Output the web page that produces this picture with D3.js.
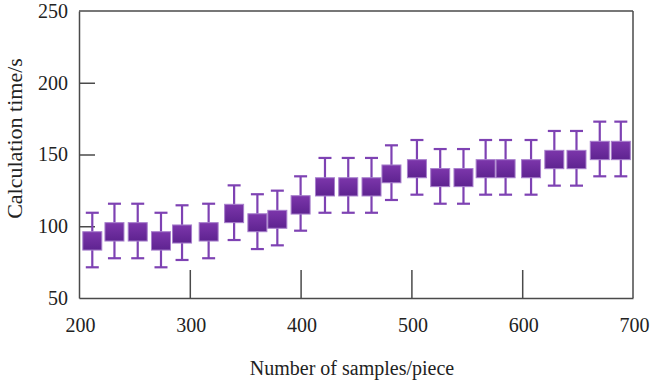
<!DOCTYPE html>
<html>
<head>
<meta charset="utf-8">
<script src="https://cdn.jsdelivr.net/npm/d3@7"></script>
<style>
  html, body { margin: 0; padding: 0; background: #fff; }
  svg { display: block; }
  svg text { font-family: "Liberation Serif", "Times New Roman", serif !important; fill: #222; }
</style>
</head>
<body>
<svg id="chart" width="650" height="386"></svg>
<script>
// ---- data ----
const samples = [212, 232, 253, 274, 293, 317, 340, 361, 379, 400, 422, 443, 464, 482, 505, 526, 547, 567, 585, 608, 629, 649, 670, 689];
const lowerQuartile = [83.4, 89.7, 89.7, 83.4, 88.3, 89.7, 102.5, 96.2, 98.6, 108.5, 121.1, 121.1, 121.1, 130.3, 133.8, 127.6, 127.6, 133.8, 133.8, 133.8, 140.1, 140.1, 146.4, 146.4];
const upperQuartile = [96.2, 102.5, 102.5, 96.2, 100.9, 102.5, 115.3, 108.7, 111.1, 121.3, 133.8, 133.8, 133.8, 142.7, 146.4, 140.2, 140.2, 146.4, 146.4, 146.4, 152.9, 152.9, 159.2, 159.2];
const whiskerLow = [71.4, 77.7, 77.7, 71.4, 76.5, 77.7, 90.4, 84.1, 86.7, 96.9, 109.4, 109.4, 109.4, 118.3, 122.0, 115.7, 115.7, 122.0, 122.0, 122.0, 128.3, 128.3, 134.8, 134.8];
const whiskerHigh = [109.4, 115.7, 115.7, 109.4, 114.6, 115.7, 128.5, 122.3, 124.8, 134.8, 147.6, 147.6, 147.6, 156.4, 160.1, 153.8, 153.8, 160.1, 160.1, 160.1, 166.4, 166.4, 172.9, 172.9];
const xTicks = [200, 300, 400, 500, 600, 700];
const yTicks = [50, 100, 150, 200, 250];
const xTitle = "Number of samples/piece";
const yTitle = "Calculation time/s";

const rows = samples.map((s, i) => ({
  x: s, q1: lowerQuartile[i], q3: upperQuartile[i], lo: whiskerLow[i], hi: whiskerHigh[i]
}));

// ---- layout ----
const L = 79, R = 633, T = 11, B = 298;
const FONT = "Liberation Serif";
const svg = d3.select("#chart");
const x = d3.scaleLinear().domain([200, 700]).range([L, R]);
const y = d3.scaleLinear().domain([50, 250]).range([B, T]);

const axisColor = "#4a4a4a";
const whiskerColor = "#7e42b3";
const boxW = 19, capW = 13;

// gradient for boxes
const defs = svg.append("defs");
const grad = defs.append("linearGradient").attr("id", "boxGrad")
  .attr("x1", 0).attr("y1", 0).attr("x2", 0).attr("y2", 1);
grad.append("stop").attr("offset", "0%").attr("stop-color", "#7c36ab");
grad.append("stop").attr("offset", "100%").attr("stop-color", "#5e2390");

// frame: top and right borders
svg.append("line").attr("x1", L).attr("x2", R).attr("y1", T).attr("y2", T)
  .attr("stroke", axisColor).attr("stroke-width", 1.5);
svg.append("line").attr("x1", R).attr("x2", R).attr("y1", T).attr("y2", B)
  .attr("stroke", axisColor).attr("stroke-width", 1.5);

// y axis (ticks inward)
const yAxis = d3.axisLeft(y).tickValues(yTicks).tickSize(0).tickPadding(11);
const gy = svg.append("g").attr("transform", `translate(${L},0)`).call(yAxis)
  .attr("font-family", FONT).attr("font-size", 20);
gy.select(".domain").attr("stroke", axisColor).attr("stroke-width", 1.5);
gy.selectAll("text").attr("fill", "#222");
gy.selectAll(".tick").filter(d => d > 50 && d < 250).append("line")
  .attr("x1", 0).attr("x2", 16).attr("stroke", axisColor).attr("stroke-width", 1.5);

// x axis (ticks inward)
const xAxis = d3.axisBottom(x).tickValues(xTicks).tickSize(0).tickPadding(20);
const gx = svg.append("g").attr("transform", `translate(0,${B})`).call(xAxis)
  .attr("font-family", FONT).attr("font-size", 20);
gx.select(".domain").attr("stroke", axisColor).attr("stroke-width", 1.5);
gx.selectAll("text").attr("fill", "#222").attr("dx", "1");
gx.selectAll(".tick").filter(d => d > 200 && d < 700).append("line")
  .attr("y1", 0).attr("y2", -28).attr("stroke", axisColor).attr("stroke-width", 1.5);

// boxes
const g = svg.append("g");
const box = g.selectAll("g.box").data(rows).join("g").attr("class", "box");
box.append("line")
  .attr("x1", d => x(d.x)).attr("x2", d => x(d.x))
  .attr("y1", d => y(d.hi)).attr("y2", d => y(d.lo))
  .attr("stroke", whiskerColor).attr("stroke-width", 2.2);
box.append("line")
  .attr("x1", d => x(d.x) - capW / 2).attr("x2", d => x(d.x) + capW / 2)
  .attr("y1", d => y(d.hi)).attr("y2", d => y(d.hi))
  .attr("stroke", whiskerColor).attr("stroke-width", 2.2);
box.append("line")
  .attr("x1", d => x(d.x) - capW / 2).attr("x2", d => x(d.x) + capW / 2)
  .attr("y1", d => y(d.lo)).attr("y2", d => y(d.lo))
  .attr("stroke", whiskerColor).attr("stroke-width", 2.2);
box.append("rect")
  .attr("x", d => x(d.x) - boxW / 2).attr("width", boxW)
  .attr("y", d => y(d.q3)).attr("height", d => y(d.q1) - y(d.q3))
  .attr("fill", "url(#boxGrad)").attr("stroke", "#a77fcc").attr("stroke-width", 1);

// titles
svg.append("text").attr("x", (L + R) / 2 - 4).attr("y", 375)
  .attr("text-anchor", "middle").attr("font-family", FONT).attr("font-size", 20).text(xTitle);
svg.append("text").attr("transform", `translate(22,${(T + 222) / 2 + 22}) rotate(-90)`)
  .attr("text-anchor", "middle").attr("font-family", FONT).attr("font-size", 22).text(yTitle);
</script>
</body>
</html>
